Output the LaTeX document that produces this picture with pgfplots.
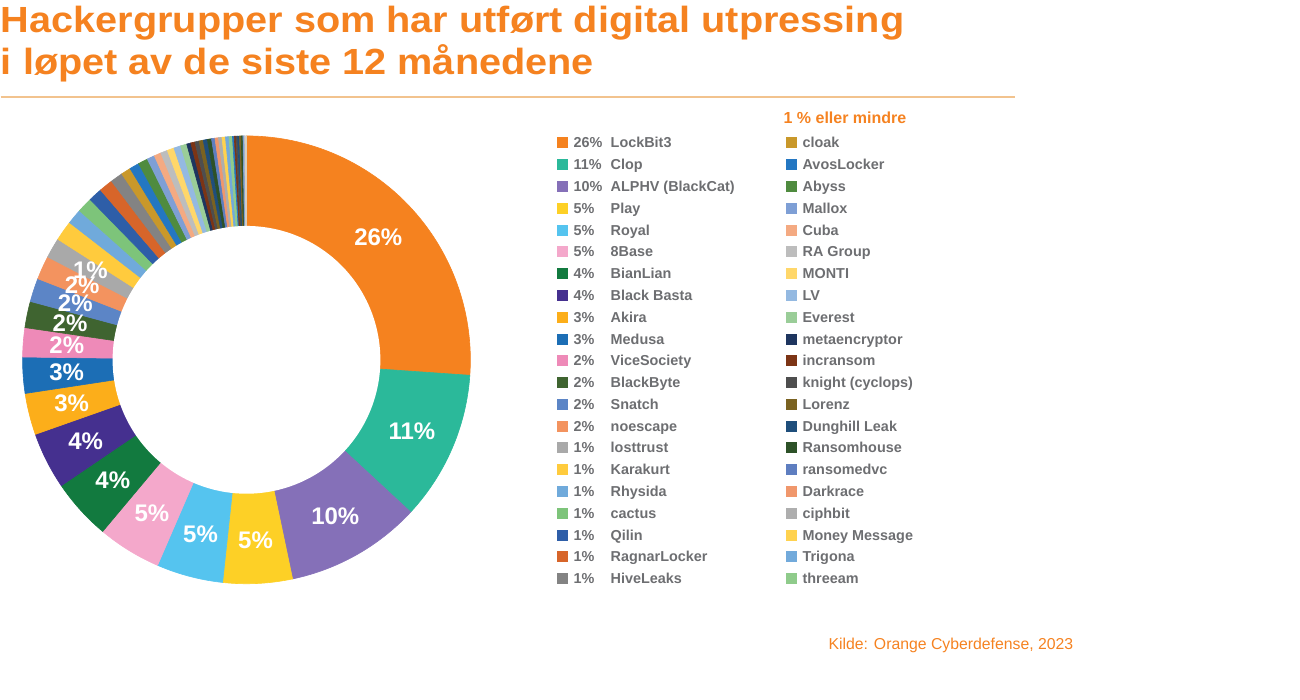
\documentclass[border=0pt]{standalone}
\usepackage{pgfplots}
\usepackage{pgfplotstable}
\pgfplotsset{compat=1.18}
\usepackage{fontspec}
\setmainfont{Liberation Sans}
\newfontfamily\titlefont[FakeStretch=1.09]{Liberation Sans Bold}

\definecolor{orangeT}{HTML}{F58220}
\definecolor{ruleC}{HTML}{F2C38E}
\definecolor{legT}{HTML}{6D6E71}
\definecolor{cLockBit}{HTML}{F5821F}
\definecolor{cClop}{HTML}{2BB99A}
\definecolor{cALPHV}{HTML}{8570B8}
\definecolor{cPlay}{HTML}{FDD026}
\definecolor{cRoyal}{HTML}{55C4EF}
\definecolor{cEightBase}{HTML}{F4A8CB}
\definecolor{cBianLian}{HTML}{127A3F}
\definecolor{cBlackBasta}{HTML}{45308F}
\definecolor{cAkira}{HTML}{FCAE1A}
\definecolor{cMedusa}{HTML}{1C6EB5}
\definecolor{cVice}{HTML}{EE8AB8}
\definecolor{cBlackByte}{HTML}{3F6430}
\definecolor{cSnatch}{HTML}{5C85C6}
\definecolor{cNoescape}{HTML}{F3935F}
\definecolor{cLost}{HTML}{A9A9A9}
\definecolor{cKarakurt}{HTML}{FFCB3D}
\definecolor{cRhysida}{HTML}{70AADB}
\definecolor{cCactus}{HTML}{7DC47A}
\definecolor{cQilin}{HTML}{2E5EA8}
\definecolor{cRagnar}{HTML}{D7652A}
\definecolor{cHive}{HTML}{838383}
\definecolor{cCloak}{HTML}{C9982A}
\definecolor{cAvos}{HTML}{2477C2}
\definecolor{cAbyss}{HTML}{4F8B3F}
\definecolor{cMallox}{HTML}{7E9FD5}
\definecolor{cCuba}{HTML}{F4AA82}
\definecolor{cRA}{HTML}{BDBDBD}
\definecolor{cMonti}{HTML}{FFD76A}
\definecolor{cLV}{HTML}{94B9E1}
\definecolor{cEverest}{HTML}{9ACD98}
\definecolor{cMeta}{HTML}{1E355F}
\definecolor{cIncr}{HTML}{7C3415}
\definecolor{cKnight}{HTML}{4E4E4E}
\definecolor{cLorenz}{HTML}{7A6221}
\definecolor{cDung}{HTML}{1F4E7B}
\definecolor{cRansomh}{HTML}{2D5128}
\definecolor{cRansomedvc}{HTML}{5E7EC0}
\definecolor{cDarkrace}{HTML}{F0976C}
\definecolor{cCiphbit}{HTML}{AEAEAE}
\definecolor{cMoney}{HTML}{FFD24F}
\definecolor{cTrigona}{HTML}{72AADB}
\definecolor{cThreeam}{HTML}{8FCB8B}
\definecolor{cBeige}{HTML}{D9CFC0}

% share of each group (percent), in chart order (clockwise from 12 o'clock)
\pgfplotstableread{
pct col
26.1 cLockBit
10.8 cClop
9.8 cALPHV
5.0 cPlay
4.8 cRoyal
4.6 cEightBase
4.4 cBianLian
4.1 cBlackBasta
3.0 cAkira
2.6 cMedusa
2.1 cVice
1.9 cBlackByte
1.7 cSnatch
1.7 cNoescape
1.45 cLost
1.45 cKarakurt
1.1 cRhysida
1.1 cCactus
1.0 cQilin
1.0 cRagnar
0.9 cHive
0.7 cCloak
0.7 cAvos
0.7 cAbyss
0.55 cMallox
0.5 cCuba
0.5 cRA
0.5 cMonti
0.5 cLV
0.45 cEverest
0.3 cMeta
0.3 cIncr
0.3 cKnight
0.3 cLorenz
0.3 cDung
0.3 cRansomh
0.25 cRansomedvc
0.25 cDarkrace
0.25 cCiphbit
0.25 cMoney
0.25 cTrigona
0.25 cThreeam
0.125 cAvos
0.125 cIncr
0.125 cKnight
0.125 cDung
0.125 cLorenz
0.125 cRansomh
0.125 cMallox
0.125 cBeige
}\piedata

\begin{document}
\begin{tikzpicture}
\begin{scope}[x=0.5pt,y=-0.5pt]
\path (0,0) rectangle (1300,700);
% title
\node[anchor=base west, inner sep=0, text=orangeT, font=\titlefont\fontsize{18.2}{20}\selectfont] at (0,33) {Hackergrupper som har utført digital utpressing};
\node[anchor=base west, inner sep=0, text=orangeT, font=\titlefont\fontsize{18.2}{20}\selectfont] at (0,75) {i løpet av de siste 12 månedene};
\draw[ruleC, line width=0.6pt] (0,97) -- (1015,97);
% legend, left column
\foreach \nm/\pc/\cl [count=\k from 0] in {LockBit3/26/cLockBit, Clop/11/cClop, ALPHV (BlackCat)/10/cALPHV, Play/5/cPlay, Royal/5/cRoyal, 8Base/5/cEightBase, BianLian/4/cBianLian, Black Basta/4/cBlackBasta, Akira/3/cAkira, Medusa/3/cMedusa, ViceSociety/2/cVice, BlackByte/2/cBlackByte, Snatch/2/cSnatch, noescape/2/cNoescape, losttrust/1/cLost, Karakurt/1/cKarakurt, Rhysida/1/cRhysida, cactus/1/cCactus, Qilin/1/cQilin, RagnarLocker/1/cRagnar, HiveLeaks/1/cHive}{
  \pgfmathsetmacro\yy{143+21.8*\k}
  \fill[\cl] (557,\yy-5.5) rectangle (568,\yy+5.5);
  \node[anchor=base west, inner sep=0, text=legT, font=\bfseries\fontsize{7.2}{8}\selectfont] at (573,\yy+5) {\pc\%};
  \node[anchor=base west, inner sep=0, text=legT, font=\bfseries\fontsize{7.2}{8}\selectfont] at (610,\yy+5) {\nm};
}
% legend, right column
\node[anchor=base west, inner sep=0, text=orangeT, font=\bfseries\fontsize{8}{9}\selectfont] at (783,124) {1 \% eller mindre};
\foreach \nm/\cl [count=\k from 0] in {cloak/cCloak, AvosLocker/cAvos, Abyss/cAbyss, Mallox/cMallox, Cuba/cCuba, RA Group/cRA, MONTI/cMonti, LV/cLV, Everest/cEverest, metaencryptor/cMeta, incransom/cIncr, knight (cyclops)/cKnight, Lorenz/cLorenz, Dunghill Leak/cDung, Ransomhouse/cRansomh, ransomedvc/cRansomedvc, Darkrace/cDarkrace, ciphbit/cCiphbit, Money Message/cMoney, Trigona/cTrigona, threeam/cThreeam}{
  \pgfmathsetmacro\yy{143+21.8*\k}
  \fill[\cl] (786,\yy-5.5) rectangle (797,\yy+5.5);
  \node[anchor=base west, inner sep=0, text=legT, font=\bfseries\fontsize{7.2}{8}\selectfont] at (802,\yy+5) {\nm};
}
% source
\node[anchor=base west, inner sep=0, text=orangeT, font=\fontsize{7.9}{9}\selectfont] at (828,650) {Kilde: Orange Cyberdefense, 2023};
\end{scope}

\begin{axis}[
  at={(123pt,-180pt)}, anchor=center,
  scale only axis, width=224pt, height=224pt,
  xmin=-1, xmax=1, ymin=-1, ymax=1,
  hide axis, clip=false,
]
\pgfplotstablegetrowsof{\piedata}
\pgfmathtruncatemacro\lastrow{\pgfplotsretval-1}
\def\cum{0}
\pgfplotsforeachungrouped \i in {0,...,\lastrow}{%
  \pgfplotstablegetelem{\i}{pct}\of\piedata \let\sP\pgfplotsretval
  \pgfplotstablegetelem{\i}{col}\of\piedata \let\sCol\pgfplotsretval
  \pgfmathsetmacro\sA{90-3.6*\cum}%
  \pgfmathsetmacro\sB{90-3.6*(\cum+\sP)}%
  \edef\tmp{\noexpand\addplot[fill=\sCol, draw=\sCol, line width=0.3pt, domain=\sB:\sA, samples=60] ({cos(x)},{sin(x)}) -- (axis cs:0,0) -- cycle;}%
  \tmp
  \pgfmathsetmacro\cum{\cum+\sP}%
}
\addplot[fill=white, draw=none, domain=0:360, samples=180] ({0.598*cos(x)},{0.598*sin(x)}) -- cycle;
\def\cum{0}
\pgfplotsforeachungrouped \i in {0,...,14}{%
  \pgfplotstablegetelem{\i}{pct}\of\piedata \let\sP\pgfplotsretval
  \pgfmathsetmacro\sM{90-3.6*(\cum+\sP/2)}%
  \pgfmathsetmacro\lx{0.805*cos(\sM)}%
  \pgfmathsetmacro\ly{0.805*sin(\sM)}%
  \pgfmathtruncatemacro\lp{round(\sP)}%
  \edef\tmp{\noexpand\node[text=white, font=\noexpand\bfseries\noexpand\fontsize{12}{13}\noexpand\selectfont] at (axis cs:\lx,\ly) {\lp\noexpand\%};}%
  \tmp
  \pgfmathsetmacro\cum{\cum+\sP}%
}
\end{axis}
\end{tikzpicture}
\end{document}
